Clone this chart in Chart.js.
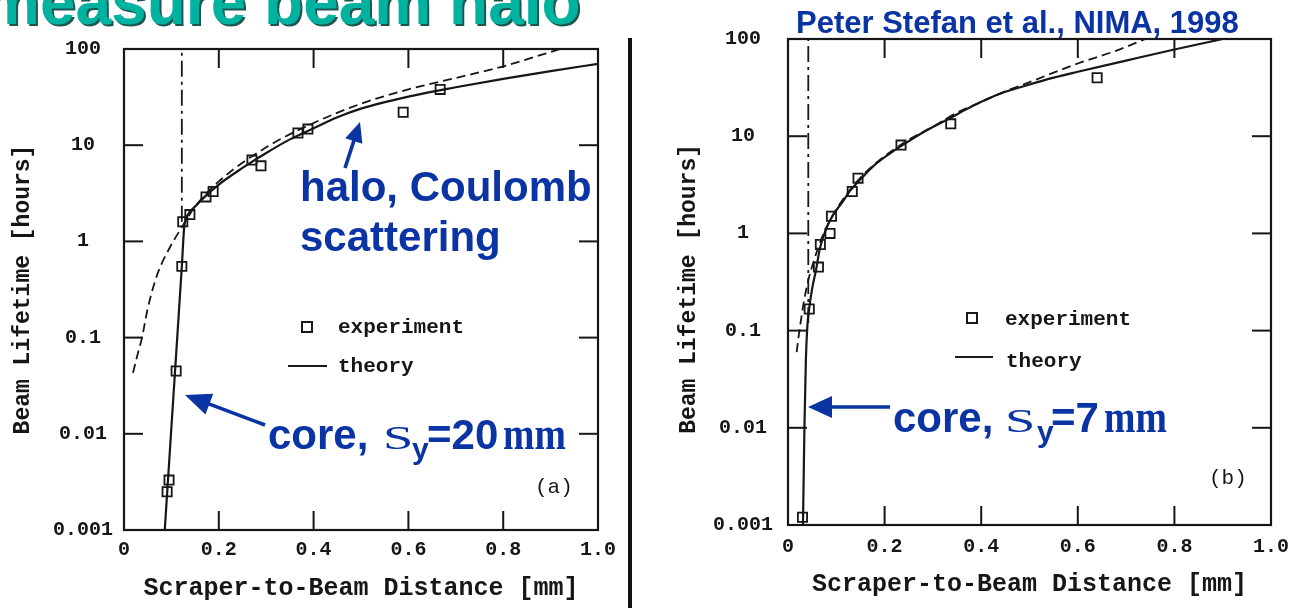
<!DOCTYPE html>
<html><head><meta charset="utf-8">
<script src="https://cdn.jsdelivr.net/npm/chart.js@4.4.1/dist/chart.umd.min.js"></script>
<style>
html,body{margin:0;padding:0;background:#fff;width:1301px;height:608px;overflow:hidden;}
body{position:relative;}
canvas{position:absolute;top:0;}
#c1{left:0;}
#c2{left:630px;}
.t{position:absolute;white-space:nowrap;line-height:1;z-index:3;}
#divider{position:absolute;left:628px;top:38px;width:4px;height:570px;background:#111;z-index:4;}
svg{position:absolute;left:0;top:0;z-index:3;pointer-events:none;}
.sq{position:absolute;width:8px;height:8px;border:2px solid #1a1a1a;z-index:3;}
.ln{position:absolute;height:2px;background:#1a1a1a;z-index:3;}
</style></head>
<body>
<canvas id="c1" width="630" height="608"></canvas>
<canvas id="c2" width="671" height="608"></canvas>
<div id="divider"></div>
<svg id="arrows" width="1301" height="608"></svg>
<div id="overlay"></div>
<script>
// ---------- axis ticks ----------
const xTicks = [0, 0.2, 0.4, 0.6, 0.8, 1.0];
const xTickLabels = ['0', '0.2', '0.4', '0.6', '0.8', '1.0'];
const yTicks = [0.001, 0.01, 0.1, 1, 10, 100];
const yTickLabels = ['0.001', '0.01', '0.1', '1', '10', '100'];

// ---------- panel (a) ----------
const expA_x = [0.091, 0.095, 0.110, 0.122, 0.124, 0.139, 0.173, 0.188, 0.270, 0.289, 0.367, 0.388, 0.589, 0.667];
const expA_y = [0.0025, 0.0033, 0.045, 0.55, 1.6, 1.9, 2.9, 3.3, 7.0, 6.1, 13.4, 14.7, 22, 38];
const theoryA_x = [0.086, 0.0991, 0.1123, 0.122, 0.127, 0.135, 0.15, 0.17, 0.2, 0.25, 0.3, 0.35, 0.4, 0.45, 0.5, 0.6, 0.7, 0.8, 0.9, 1.0];
const theoryA_y = [0.001, 0.01, 0.1, 0.55, 1.4, 1.9, 2.3, 2.9, 3.9, 5.8, 8.3, 11.5, 15, 19.5, 24, 32, 40, 49, 59, 70];
const haloA_x = [0.019, 0.028, 0.038, 0.05, 0.07, 0.097, 0.122, 0.15, 0.2, 0.3, 0.4, 0.5, 0.6, 0.7, 0.8, 0.92];
const haloA_y = [0.043, 0.065, 0.1, 0.2, 0.45, 0.87, 1.4, 2.3, 4.2, 9.5, 17, 27, 38, 50, 66, 100];
const cutA_x = [0.122, 0.122];
const cutA_y = [1.6, 100];

// ---------- panel (b) ----------
const expB_x = [0.030, 0.044, 0.063, 0.067, 0.087, 0.090, 0.133, 0.145, 0.234, 0.337, 0.640];
const expB_y = [0.0012, 0.167, 0.45, 0.77, 1.0, 1.5, 2.7, 3.7, 8.1, 13.4, 40];
const theoryB_x = [0.031, 0.034, 0.037, 0.040, 0.044, 0.05, 0.058, 0.066, 0.08, 0.095, 0.108, 0.13, 0.15, 0.176, 0.21, 0.247, 0.29, 0.337, 0.378, 0.44, 0.5, 0.55, 0.6, 0.7, 0.8, 0.9];
const theoryB_y = [0.001, 0.01, 0.05, 0.11, 0.17, 0.27, 0.42, 0.7, 1.15, 1.6, 1.95, 2.8, 3.6, 4.9, 6.6, 8.7, 11.7, 15.5, 20, 27.5, 34, 40, 46, 60, 78, 100];
const haloB_x = [0.018, 0.021, 0.026, 0.033, 0.042, 0.055, 0.07, 0.09, 0.11, 0.14, 0.18, 0.25, 0.3, 0.35, 0.4, 0.45, 0.5, 0.6, 0.68, 0.74];
const haloB_y = [0.06, 0.08, 0.12, 0.2, 0.33, 0.55, 0.9, 1.45, 2.1, 3.3, 5.2, 9.2, 12.5, 17.5, 22.5, 29, 36, 56, 76, 100];
const cutB_x = [0.042, 0.042];
const cutB_y = [0.12, 100];

const INK = '#161616';
const MONO = '"Liberation Mono", "Courier New", monospace';

function pts(xs, ys) { return xs.map((x, i) => ({ x: x, y: ys[i] })); }

const framePlugin = {
  id: 'frame',
  afterDraw(chart) {
    const { ctx, chartArea: a, scales } = chart;
    const x = scales.x, y = scales.y;
    const L = 19;
    ctx.save();
    ctx.strokeStyle = INK;
    ctx.lineWidth = 2.2;
    ctx.strokeRect(a.left, a.top, a.right - a.left, a.bottom - a.top);
    ctx.lineWidth = 2;
    const seg = (x1, y1, x2, y2) => { ctx.beginPath(); ctx.moveTo(x1, y1); ctx.lineTo(x2, y2); ctx.stroke(); };
    xTicks.slice(1, -1).forEach(v => {
      const px = x.getPixelForValue(v);
      seg(px, a.bottom, px, a.bottom - L);
      seg(px, a.top, px, a.top + L);
    });
    yTicks.slice(1, -1).forEach(v => {
      const py = y.getPixelForValue(v);
      seg(a.left, py, a.left + L, py);
      seg(a.right, py, a.right - L, py);
    });
    ctx.restore();
  }
};

function makeChart(id, d, g) {
  return new Chart(document.getElementById(id), {
    type: 'scatter',
    data: {
      datasets: [
        { data: pts(d.theory[0], d.theory[1]), showLine: true, borderColor: INK, borderWidth: 2.2, pointRadius: 0, cubicInterpolationMode: 'monotone', fill: false },
        { data: pts(d.halo[0], d.halo[1]), showLine: true, borderColor: INK, borderWidth: 1.8, borderDash: [9, 5], pointRadius: 0, cubicInterpolationMode: 'monotone', fill: false },
        { data: pts(d.cut[0], d.cut[1]), showLine: true, borderColor: INK, borderWidth: 1.8, borderDash: [16, 5, 3, 5], pointRadius: 0, tension: 0, fill: false },
        { data: pts(d.exp[0], d.exp[1]), showLine: false, pointStyle: 'rect', pointRadius: 6.5, borderColor: INK, borderWidth: 1.8, backgroundColor: 'rgba(255,255,255,0)' }
      ]
    },
    options: {
      responsive: false, animation: false, devicePixelRatio: 1,
      layout: { padding: { top: g.top, right: g.right, left: 0, bottom: 0 } },
      plugins: { legend: { display: false }, tooltip: { enabled: false } },
      scales: {
        x: {
          type: 'linear', min: 0, max: 1,
          grid: { display: false, drawTicks: false }, border: { display: false },
          afterBuildTicks: s => { s.ticks = xTicks.map(v => ({ value: v })); },
          afterFit: s => { s.height = g.xh; },
          ticks: { font: { family: MONO, size: 20, weight: 'bold' }, color: INK, padding: g.xpad, maxRotation: 0, autoSkip: false,
                   callback: (v, i) => xTickLabels[i] },
          title: { display: true, text: 'Scraper-to-Beam Distance [mm]', font: { family: MONO, size: 25, weight: 'bold' }, color: INK,
                   padding: { top: 0, bottom: g.xtpad } }
        },
        y: {
          type: 'logarithmic', min: 0.001, max: 100,
          grid: { display: false, drawTicks: false }, border: { display: false },
          afterBuildTicks: s => { s.ticks = yTicks.map(v => ({ value: v })); },
          afterFit: s => { s.width = g.yw; },
          ticks: { font: { family: MONO, size: 20, weight: 'bold' }, color: INK, padding: g.ypad, crossAlign: 'center', autoSkip: false,
                   callback: (v, i) => yTickLabels[i] },
          title: { display: true, text: g.ytitle, font: { family: MONO, size: 23, weight: 'bold' }, color: INK,
                   padding: { top: g.ytpad, bottom: 0 } }
        }
      }
    },
    plugins: [framePlugin]
  });
}

makeChart('c1',
  { theory: [theoryA_x, theoryA_y], halo: [haloA_x, haloA_y], cut: [cutA_x, cutA_y], exp: [expA_x, expA_y] },
  { top: 49, right: 32, xh: 78, yw: 124, xpad: 8, ypad: 11, xtpad: 4, ytpad: 9, ytitle: 'Beam Lifetime [hours]' });
makeChart('c2',
  { theory: [theoryB_x, theoryB_y], halo: [haloB_x, haloB_y], cut: [cutB_x, cutB_y], exp: [expB_x, expB_y] },
  { top: 39, right: 30, xh: 83, yw: 158, xpad: 10, ypad: 15, xtpad: 8, ytpad: 45, ytitle: 'Beam Lifetime [hours] ' });

// ---------- slide annotations (text) ----------
const SANS = '"Liberation Sans", Arial, sans-serif';
const SERIF = '"Liberation Serif", "Times New Roman", serif';
const BLUE = '#0a33a3';
const BASE = { sans: 0.8465, serif: 0.8375, mono: 0.7665 };
const ov = document.getElementById('overlay');
function txt(s, left, baseline, size, fam, opt) {
  opt = opt || {};
  const e = document.createElement('div');
  e.className = 't';
  e.textContent = s;
  const famName = fam === 'sans' ? SANS : fam === 'serif' ? SERIF : MONO;
  e.style.fontFamily = famName;
  e.style.fontSize = size + 'px';
  e.style.fontWeight = opt.weight || 'normal';
  e.style.color = opt.color || INK;
  e.style.left = left + 'px';
  e.style.top = (baseline - BASE[fam] * size) + 'px';
  if (opt.sx) { e.style.transform = 'scaleX(' + opt.sx + ')'; e.style.transformOrigin = '0 0'; }
  if (opt.shadow) e.style.textShadow = opt.shadow;
  ov.appendChild(e);
  return e;
}
// slide title (cut at top edge)
txt('measure beam halo', -17, 24, 64, 'sans', { weight: 'bold', color: '#00b3a0', shadow: '2px 2px 0 #1d5550' });
txt('Peter Stefan et al., NIMA, 1998', 796, 33, 31, 'sans', { weight: 'bold', color: BLUE });
// halo annotation
txt('halo, Coulomb', 300, 202, 42, 'sans', { weight: 'bold', color: BLUE });
txt('scattering', 300, 252, 42, 'sans', { weight: 'bold', color: BLUE });
// core (a)
txt('core,', 268, 450, 42, 'sans', { weight: 'bold', color: BLUE });
txt('S', 383, 450, 33, 'serif', { color: BLUE, sx: 1.65 });
txt('y', 412, 459, 30, 'sans', { weight: 'bold', color: BLUE });
txt('=20', 427, 450, 42, 'sans', { weight: 'bold', color: BLUE });
txt('mm', 503, 450, 46, 'serif', { weight: 'bold', color: BLUE, sx: 0.82 });
// core (b)
txt('core,', 893, 433, 42, 'sans', { weight: 'bold', color: BLUE });
txt('S', 1005, 433, 33, 'serif', { color: BLUE, sx: 1.65 });
txt('y', 1037, 442, 30, 'sans', { weight: 'bold', color: BLUE });
txt('=7', 1051, 433, 42, 'sans', { weight: 'bold', color: BLUE });
txt('mm', 1104, 433, 46, 'serif', { weight: 'bold', color: BLUE, sx: 0.82 });
// legends
txt('experiment', 338, 333, 21, 'mono', { weight: 'bold' });
txt('theory', 338, 372, 21, 'mono', { weight: 'bold' });
txt('experiment', 1005, 325, 21, 'mono', { weight: 'bold' });
txt('theory', 1006, 367, 21, 'mono', { weight: 'bold' });
txt('(a)', 535, 493, 21, 'mono');
txt('(b)', 1209, 484, 21, 'mono');
function box(cx, cy) { const e = document.createElement('div'); e.className = 'sq'; e.style.left = (cx - 6) + 'px'; e.style.top = (cy - 6) + 'px'; ov.appendChild(e); }
function hline(x1, x2, y) { const e = document.createElement('div'); e.className = 'ln'; e.style.left = x1 + 'px'; e.style.width = (x2 - x1) + 'px'; e.style.top = (y - 1) + 'px'; ov.appendChild(e); }
box(307, 327); hline(288, 327, 366);
box(972, 318); hline(955, 993, 357);

// ---------- arrows ----------
const svg = document.getElementById('arrows');
function arrow(x1, y1, x2, y2, len, hw) {
  const dx = x2 - x1, dy = y2 - y1, d = Math.hypot(dx, dy);
  const ux = dx / d, uy = dy / d;
  const bx = x2 - ux * len, by = y2 - uy * len;
  const l = document.createElementNS('http://www.w3.org/2000/svg', 'line');
  l.setAttribute('x1', x1); l.setAttribute('y1', y1); l.setAttribute('x2', bx + ux * 2); l.setAttribute('y2', by + uy * 2);
  l.setAttribute('stroke', BLUE); l.setAttribute('stroke-width', 3.6);
  svg.appendChild(l);
  const p = document.createElementNS('http://www.w3.org/2000/svg', 'polygon');
  p.setAttribute('points', [x2, y2, bx - uy * hw, by + ux * hw, bx + uy * hw, by - ux * hw].join(' '));
  p.setAttribute('fill', BLUE);
  svg.appendChild(p);
}
arrow(345, 168, 360, 122, 20, 9);
arrow(265, 425, 185, 395, 26, 11);
arrow(890, 407, 808, 407, 24, 11);
</script>
</body></html>
